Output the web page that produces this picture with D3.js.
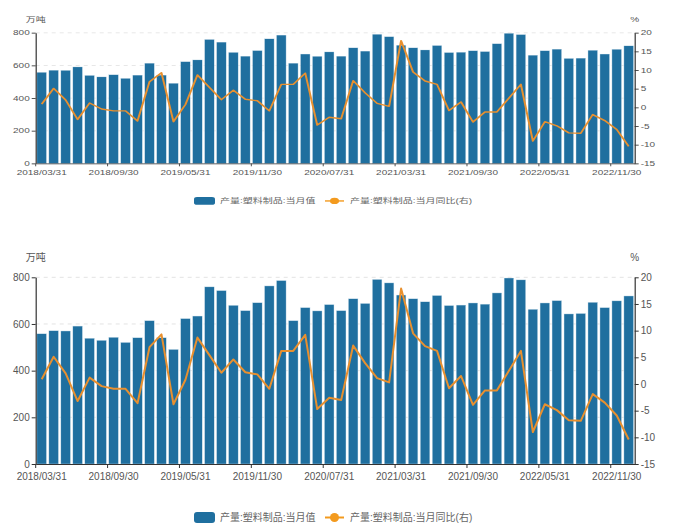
<!DOCTYPE html>
<html><head><meta charset="utf-8">
<script src="https://cdn.jsdelivr.net/npm/d3@7"></script>
<style>
html,body{margin:0;padding:0;background:#fff;}
svg{display:block;}
text{font-family:"Liberation Sans","Noto Sans CJK SC",sans-serif;}
</style></head>
<body>
<svg id="c" width="673" height="532"></svg>
<script>
const categories = [
 "2018/03/31","2018/04/30","2018/05/31","2018/06/30","2018/07/31","2018/08/31","2018/09/30","2018/10/31","2018/11/30","2018/12/31",
 "2019/03/31","2019/04/30","2019/05/31","2019/06/30","2019/07/31","2019/08/31","2019/09/30","2019/10/31","2019/11/30","2019/12/31",
 "2020/03/31","2020/04/30","2020/05/31","2020/06/30","2020/07/31","2020/08/31","2020/09/30","2020/10/31","2020/11/30","2020/12/31",
 "2021/03/31","2021/04/30","2021/05/31","2021/06/30","2021/07/31","2021/08/31","2021/09/30","2021/10/31","2021/11/30","2021/12/31",
 "2022/03/31","2022/04/30","2022/05/31","2022/06/30","2022/07/31","2022/08/31","2022/09/30","2022/10/31","2022/11/30","2022/12/31"];
const outputValues = [
 558,571,570,591,539,530,543,521,541,614,
 541,491,623,634,759,743,680,657,691,763,
 786,614,670,656,683,657,708,688,791,776,
 724,708,695,722,679,681,690,685,733,797,
 789,663,690,700,643,645,693,670,699,720];
const yoyValues = [
 0.9,5.1,2.0,-3.2,1.2,-0.4,-0.9,-0.9,-3.6,6.9,
 9.3,-3.8,0.8,8.7,5.4,2.1,4.6,2.2,1.8,-0.9,
 6.2,6.2,9.2,-4.7,-2.6,-3.0,7.2,3.9,1.1,0.3,
 17.9,9.5,7.1,6.2,-0.8,1.5,-3.9,-1.2,-1.2,2.5,
 6.2,-9.0,-3.8,-4.9,-6.8,-6.9,-1.9,-3.5,-5.9,-10.4];
const leftTicks = [0,200,400,600,800];
const rightTicks = [-15,-10,-5,0,5,10,15,20];
const seriesNames = ["产量:塑料制品:当月值","产量:塑料制品:当月同比(右)"];
const units = ["万吨","%"];

const barColor = "#1f6f9f", lineColor = "#e8902f", dotColor = "#f39a1e";
const axisColor = "#333", labelColor = "#555";

const L = 35.7, R = 634.7, T = 37.3, B = 224;
const x = d3.scaleBand().domain(categories).range([L, R]).paddingInner(0.2).paddingOuter(0.1);
const y0 = d3.scaleLinear().domain([0, 800]).range([B, T]);
const y1 = d3.scaleLinear().domain([-15, 20]).range([B, T]);

function draw(g) {
  // grid
  g.append("g").selectAll("line").data(leftTicks.filter(d => d > 0)).join("line")
    .attr("x1", L).attr("x2", R).attr("y1", d => y0(d)).attr("y2", d => y0(d))
    .attr("stroke", "#e3e3e3").attr("stroke-dasharray", "4,4");
  // bars
  g.append("g").selectAll("rect").data(outputValues).join("rect")
    .attr("x", (d, i) => x(categories[i])).attr("width", x.bandwidth())
    .attr("y", d => y0(d)).attr("height", d => B - y0(d))
    .attr("fill", barColor).attr("stroke", "#d6e6f0").attr("stroke-width", 0.4);
  // line
  const line = d3.line().x((d, i) => x(categories[i]) + x.bandwidth() / 2).y(d => y1(d));
  g.append("path").datum(yoyValues).attr("d", line)
    .attr("fill", "none").attr("stroke", lineColor).attr("stroke-width", 2).attr("stroke-linejoin", "round");

  // axes
  const ax = g.append("g").attr("transform", `translate(0,${B})`)
    .call(d3.axisBottom(x).tickValues(categories.filter((d, i) => i % 6 === 0)).tickSizeInner(4).tickSizeOuter(0).tickPadding(5));
  ax.selectAll(".tick line").attr("x1", -x.step() / 2).attr("x2", -x.step() / 2);
  const al = g.append("g").attr("transform", `translate(${L},0)`)
    .call(d3.axisLeft(y0).tickValues(leftTicks).tickSizeInner(4).tickSizeOuter(0).tickPadding(2).tickFormat(d => String(d)));
  const ar = g.append("g").attr("transform", `translate(${R},0)`)
    .call(d3.axisRight(y1).tickValues(rightTicks).tickSizeInner(4).tickSizeOuter(0).tickPadding(2).tickFormat(d => String(d)));
  [ax, al, ar].forEach(a => {
    a.select(".domain").attr("stroke", axisColor).attr("stroke-width", 1.2);
    a.selectAll(".tick line").attr("stroke", axisColor);
    a.selectAll("text").attr("fill", labelColor).attr("font-size", 10)
      .style("font-family", '"Liberation Sans","Noto Sans CJK SC",sans-serif');
  });
  // unit labels
  g.append("text").attr("x", L).attr("y", 17.7).attr("dy", "0.35em").attr("text-anchor", "middle")
    .attr("font-size", 10).attr("fill", labelColor).text(units[0]);
  g.append("text").attr("x", R).attr("y", 17.7).attr("dy", "0.35em").attr("text-anchor", "middle")
    .attr("font-size", 10).attr("fill", labelColor).text(units[1]);

  // legend
  const ly = 277.5;
  const lg = g.append("g");
  lg.append("rect").attr("x", 194).attr("y", ly - 5.5).attr("width", 21).attr("height", 11).attr("rx", 3)
    .attr("fill", barColor);
  lg.append("text").attr("x", 220).attr("y", ly).attr("dy", "0.35em").attr("font-size", 10)
    .attr("fill", "#666").text(seriesNames[0]);
  lg.append("line").attr("x1", 325).attr("x2", 344).attr("y1", ly).attr("y2", ly)
    .attr("stroke", dotColor).attr("stroke-width", 2);
  lg.append("circle").attr("cx", 334.5).attr("cy", ly).attr("r", 4.5).attr("fill", dotColor);
  lg.append("text").attr("x", 350).attr("y", ly).attr("dy", "0.35em").attr("font-size", 10)
    .attr("fill", "#666").text(seriesNames[1]);
}

const svg = d3.select("#c");
draw(svg.append("g").attr("transform", "translate(0,6.7) scale(1,0.7)"));
draw(svg.append("g").attr("transform", "translate(0,240)"));
</script>
</body></html>
